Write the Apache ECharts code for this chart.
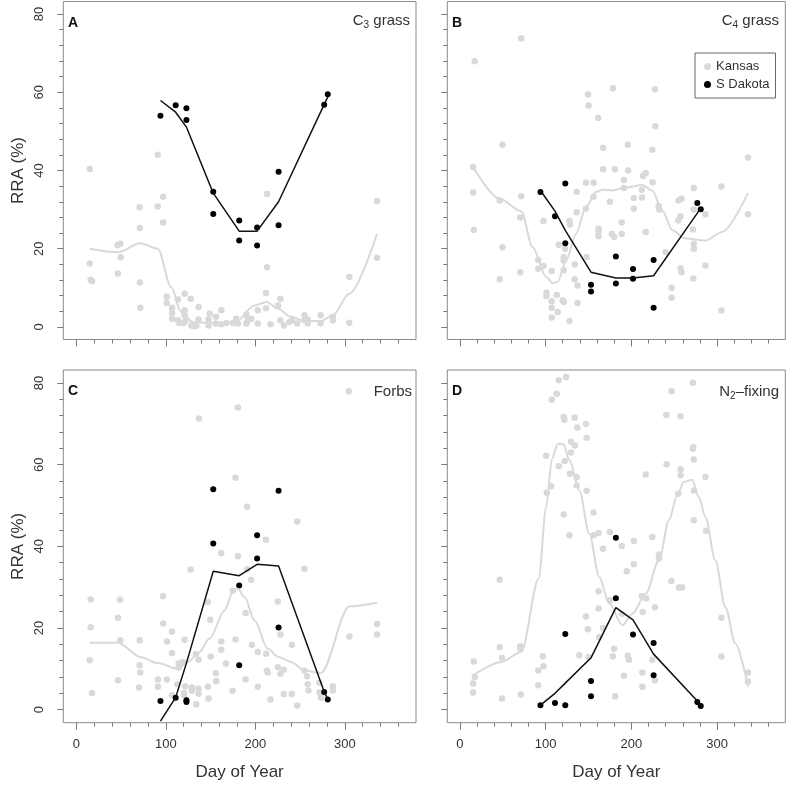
<!DOCTYPE html>
<html>
<head>
<meta charset="utf-8">
<script src="https://cdn.jsdelivr.net/npm/echarts@6/dist/echarts.min.js"></script>
<style>
html, body { margin: 0; padding: 0; background: #fff; }
#chart { width: 787px; height: 785px; }
</style>
</head>
<body>
<div id="chart"></div>
<script>
// tick values
const xTicks = [0, 100, 200, 300];
const xMinor = [20, 40, 60, 80, 120, 140, 160, 180, 220, 240, 260, 280, 320, 340, 360];
const yTicks = [0, 20, 40, 60, 80];
const yMinor = [4, 8, 12, 16, 24, 28, 32, 36, 44, 48, 52, 56, 64, 68, 72, 76];

// S Dakota sample days (line vertices)
const sdDays = [94, 111, 123, 153, 182, 202, 226, 277, 281];

// ---- Panel A : C3 grass ----
const ksA = [[15,40.4],[15,16.2],[16,12.1],[17.5,11.7],[46,20.9],[49,21.3],[49.5,17.8],[46.5,13.7],[70.7,30.6],[71,25.3],
  [71,11.4],[71.5,4.9],[91,44.0],[91,30.8],[97,33.3],[97,26.7],[101,7.7],[101,6.1],[107,4.9],[107,3.6],[107,2.1],
  [113.5,7.0],[113.5,1.7],[115,1.0],[121,8.5],[121,4.3],[121,3.0],[122,1.7],[120,1.0],[127.7,7.2],[128.4,0.4],[132,0.2],
  [134,0.4],[136.6,5.1],[136.6,1.9],[149,3.4],[147.7,1.9],[147.7,0.4],[156,2.6],[156,0.9],[162,4.3],[162,0.7],[167.5,1.0],
  [175,1.0],[178.6,2.1],[180.5,0.9],[190,3.1],[190,0.9],[191.7,1.7],[195.4,2.1],[202.8,4.3],[202.8,0.9],[213,34.0],[213,15.3],
  [212,8.7],[212,4.8],[217,0.7],[225.4,5.5],[228,7.2],[228,1.7],[232,0.4],[238,1.3],[241,1.7],[247,0.9],[255,3.0],[255,1.7],
  [258.6,1.9],[258.6,0.9],[273,3.0],[273,0.9],[286.6,2.6],[286.6,1.7],[305,12.8],[305,1.1],[336,32.2],[336,17.7]];
const ksLineA = [[15,20.0],[46.5,19.1],[71.5,21.4],[91,20.0],[106,10.2],[117,3.8],[130,1.3],[151,1.0],[177,1.0],[199,5.5],
  [213,6.4],[225,4.7],[240,2.6],[255,1.5],[273.5,1.5],[286.6,3.0],[305,8.5],[336,23.8]];
const sdA = [[94,54.0],[111,56.7],[123,55.9],[123,52.9],[153,34.6],[153,28.9],[182,27.2],[182,22.1],[202,25.4],[202,20.8],
  [226,39.7],[226,26.0],[277,56.8],[281,59.5]];
const sdLineA = [57.9, 54.9, 51.1, 34.2, 24.5, 24.5, 32.0, 56.9, 58.8];

// ---- Panel B : C4 grass ----
const ksB = [[17.4,67.9],[71.6,73.8],[15.5,40.9],[15.5,34.4],[16.3,24.8],[49.6,46.6],[46.5,32.3],[49.6,20.4],[46.5,12.2],
  [71.6,33.4],[70.5,28.0],[70.5,14.0],[91.4,17.1],[91.4,14.9],[97.6,15.6],[97.6,27.1],[101,8.8],[101,7.9],[107.2,14.3],
  [107.2,6.6],[107.2,4.9],[107.2,2.4],[113,8.2],[114.2,3.8],[115.4,21.0],[120,6.8],[121.2,17.9],[121.2,17.0],[121.2,14.5],
  [121.2,6.4],[122.7,20.0],[127.8,27.1],[128.5,26.2],[127.8,1.5],[134,12.2],[134,16.0],[136.3,34.6],[136.3,29.3],[137.4,10.6],
  [137.4,6.1],[147.1,36.9],[147.1,30.2],[147.9,17.9],[149.4,59.4],[150.2,56.6],[156,36.9],[156,33.3],[161.4,53.4],[161.8,25.1],
  [161.8,24.3],[161.8,23.2],[167.2,45.8],[167.2,40.3],[175,32.0],[177.3,23.8],[178.5,61.0],[180,23.0],[180.8,40.3],[188.9,26.7],
  [188.9,23.8],[191.3,37.6],[191.3,35.5],[195.9,46.6],[196.3,40.0],[202.9,33.0],[202.9,30.2],[212.2,35.1],[212.5,33.1],
  [213.7,38.6],[216.8,39.3],[216.8,24.3],[224.5,45.3],[224.9,37.0],[227.6,60.8],[228,51.3],[231.9,30.9],[232.7,30.0],[240,19.1],
  [247,10.0],[247,7.5],[255.1,32.3],[258.6,32.8],[254.7,27.2],[257.4,28.3],[257.4,15.0],[258.6,14.0],[271.8,24.9],[272.9,35.5],
  [272.9,30.0],[272.9,21.3],[272.9,20.0],[272.2,12.4],[286.5,28.8],[286.5,15.7],[305.1,35.9],[305.1,4.2],[336,43.3],[336,28.8]];
const ksLineB = [[15.5,40.9],[46.5,32.8],[71.6,29.6],[85,20.4],[100.7,12.8],[108.4,11.2],[114,11.5],[124,17.0],[135.5,23.8],
  [147,30.6],[158.7,34.5],[166.5,35.1],[178,34.9],[193.6,35.7],[213,36.3],[224.5,34.9],[236,29.8],[248,24.7],[263,22.6],
  [286.5,22.1],[305.8,24.3],[336,34.2]];
const sdB = [[94,34.5],[111,28.3],[123,36.7],[123,21.4],[153,10.8],[153,9.1],[182,18.0],[182,11.1],[202,14.8],[202,12.3],
  [226,17.1],[226,4.9],[277,31.7],[281,30.1]];
const sdLineB = [34.9, 29.6, 24.7, 14.0, 12.5, 12.5, 13.1, 29.1, 30.5];

// ---- Panel C : Forbs ----
const ksC = [[16,27.0],[16,20.2],[14.9,12.1],[17.5,4.1],[46.5,22.5],[48.8,26.9],[49.1,17.0],[46.5,7.2],[70.7,17.0],[70.7,10.9],
  [71.5,9.1],[70,5.4],[91.2,7.4],[91.2,5.6],[96.8,27.8],[97.1,21.1],[101.2,16.7],[101.2,7.4],[106.8,19.1],[106.8,13.9],
  [106.8,3.5],[112.8,6.2],[114.3,11.3],[114.3,10.3],[119.1,11.7],[121,17.1],[121.7,5.7],[120.2,4.1],[120.2,3.5],[127.7,34.3],
  [129.1,5.4],[129.1,4.6],[134,1.3],[133.6,13.6],[136.6,12.2],[136.6,5.1],[136.6,3.9],[137,71.3],[147,26.3],[147,5.6],
  [147.7,2.7],[149.6,22.0],[150,13.0],[155.9,8.9],[156.3,7.0],[161.9,16.7],[161.9,14.7],[161.9,38.4],[167.1,11.3],[174.5,4.6],
  [174.9,29.1],[177.9,56.8],[177.9,17.2],[180.5,74.0],[180.5,37.6],[189.1,23.7],[189.1,7.4],[190.9,49.7],[190.9,34.4],
  [195.4,31.8],[196.1,15.9],[202.8,14.1],[202.8,5.6],[211.8,41.6],[212.1,13.7],[212.9,9.5],[214,9.1],[217,2.5],[225.2,26.5],
  [225.2,10.4],[228.1,18.4],[228.1,8.8],[231.9,9.8],[231.9,3.8],[240.8,3.8],[240.8,15.9],[246.8,46.1],[246.8,1.0],[254.9,34.5],
  [254.9,9.5],[257.9,8.2],[258.6,6.2],[259.4,4.7],[271.7,6.6],[271.7,4.2],[273.5,3.3],[273.5,2.9],[286.6,5.7],[286.6,4.7],
  [305.2,17.9],[336.1,21.0],[336.1,18.4],[304.4,78.0]];
const ksLineC = [[15,16.4],[46.5,16.4],[71.5,12.9],[91,11.4],[113.5,10.0],[124.7,11.7],[135.8,13.7],[149,17.4],[165.6,24.3],
  [175,28.8],[180.5,29.6],[188,27.6],[199,21.9],[214,14.9],[226,12.9],[240,11.7],[255,9.6],[273.5,9.0],[305,25.3],[336,26.2]];
const sdC = [[94,2.1],[111,2.9],[123,2.3],[123,1.9],[153,54.0],[153,40.7],[182,30.4],[182,10.9],[202,42.7],[202,37.0],
  [226,53.6],[226,20.1],[277,4.3],[281,2.5]];
const sdLineC = [-2.8, 3.0, 11.4, 33.9, 32.8, 35.6, 35.2, 4.4, 2.5];

// ---- Panel D : N2-fixing ----
const ksD = [[16.3,11.8],[17.4,8.0],[15.5,6.4],[15.5,4.2],[46.5,31.8],[46.5,15.3],[49.2,12.7],[49.2,2.7],[70.5,15.5],[70.5,14.9],
  [71.2,3.7],[91.4,6.0],[91.4,9.6],[96.8,13.1],[97.6,10.6],[100.7,62.2],[101.4,53.1],[106.5,54.7],[107.2,75.9],[113,77.4],
  [115.4,59.6],[115.4,80.7],[124,81.5],[121.2,47.8],[121.2,71.7],[122,71.0],[122.3,60.9],[127.8,42.7],[128.5,57.8],[129.7,65.6],
  [129.7,63.0],[134,71.5],[134.3,64.7],[136.3,57.0],[136.3,54.9],[137,69.1],[139.4,13.3],[147.1,70.0],[147.9,66.6],[147.9,53.6],
  [147.1,22.8],[149.4,19.7],[150.2,12.9],[156,48.3],[156,42.7],[161.8,43.3],[161.8,29.0],[161.8,24.8],[162.6,17.8],[166.9,39.4],
  [166.9,20.0],[175,43.5],[175,26.8],[178.5,13.1],[180,14.9],[181.2,3.3],[188.9,40.1],[188.9,23.5],[194.7,33.9],[195.9,13.2],
  [197.4,12.2],[191.3,8.3],[202.9,41.3],[202.9,35.6],[212.2,27.8],[212.9,9.1],[212.9,5.6],[213.3,23.9],[216.8,57.6],[217.2,27.2],
  [224.5,42.3],[224.5,12.2],[227.6,25.1],[227.6,7.2],[232.3,38.0],[232.3,37.0],[240.8,72.2],[241.2,60.1],[246.6,31.5],[247,78.0],
  [254.7,52.9],[257.4,71.9],[257.4,58.9],[257.4,57.4],[255.5,29.9],[259.4,29.9],[271.8,63.9],[272.2,64.3],[272.9,61.3],
  [272.9,53.7],[272.9,46.4],[271.8,80.1],[286.5,57.0],[287.3,43.8],[305.1,22.5],[305.1,13.0],[336,9.1],[336,6.9]];
const ksLineD = [[15.5,8.4],[48.4,11.7],[71.6,14.1],[92,32.1],[100.7,49.6],[107.6,61.5],[114.2,65.1],[120.8,65.0],[127.8,61.1],
  [139.4,53.7],[151,43.1],[162.6,32.5],[174.2,26.0],[189.7,20.7],[201.3,23.5],[216.8,28.4],[232.3,36.6],[243.9,46.4],
  [253.6,52.5],[261.3,55.8],[271,56.3],[278.7,52.1],[286.5,47.2],[298,36.6],[309.7,25.1],[321.3,16.2],[336,5.6]];
const sdD = [[94,1.1],[111,1.6],[123,1.1],[123,18.5],[153,7.0],[153,3.3],[182,42.1],[182,27.3],[202,18.4],[226,16.3],
  [226,8.4],[277,1.9],[281,0.9]];
const sdLineD = [1.1, 4.0, 6.5, 12.7, 25.0, 22.0, 13.6, 2.1, 1.1];

const font = 'Liberation Sans';
const txt = '#333';
const tickCol = '#7a7a7a';
const grey = '#d9d9d9';

const panels = [
  { ks: ksA, ksLine: ksLineA, sd: sdA, sdLine: sdLineA, grid: { left: 63.3, top: 1.5, width: 352.7, height: 338 }, yLab: true, xLab: false },
  { ks: ksB, ksLine: ksLineB, sd: sdB, sdLine: sdLineB, grid: { left: 447.3, top: 1.5, width: 338, height: 338 }, yLab: false, xLab: false },
  { ks: ksC, ksLine: ksLineC, sd: sdC, sdLine: sdLineC, grid: { left: 63.3, top: 370, width: 352.7, height: 352.7 }, yLab: true, xLab: true },
  { ks: ksD, ksLine: ksLineD, sd: sdD, sdLine: sdLineD, grid: { left: 447.3, top: 370, width: 338, height: 352.7 }, yLab: false, xLab: true }
];

const grids = [], xAxes = [], yAxes = [], series = [];
panels.forEach(function (p, g) {
  grids.push(Object.assign({ show: true, borderColor: '#8a8a8a', borderWidth: 1, backgroundColor: 'transparent' }, p.grid));
  // major + minor x axis
  xAxes.push({
    type: 'value', gridIndex: g, min: -14.6, max: 379.6, position: 'bottom',
    axisLine: { show: false, onZero: false }, splitLine: { show: false },
    axisTick: { show: true, customValues: xTicks, length: 7, lineStyle: { color: tickCol } },
    axisLabel: { show: p.xLab, customValues: xTicks, margin: 15, fontSize: 13, color: txt, fontFamily: font },
    name: p.xLab ? 'Day of Year' : '', nameLocation: 'middle', nameGap: 41,
    nameTextStyle: { fontSize: 17, color: txt, fontFamily: font }
  });
  xAxes.push({
    type: 'value', gridIndex: g, min: -14.6, max: 379.6, position: 'bottom',
    axisLine: { show: false, onZero: false }, splitLine: { show: false },
    axisTick: { show: true, customValues: xMinor, length: 4, lineStyle: { color: tickCol } },
    axisLabel: { show: false }
  });
  yAxes.push({
    type: 'value', gridIndex: g, min: -3.2, max: 83.2, position: 'left',
    axisLine: { show: false, onZero: false }, splitLine: { show: false },
    axisTick: { show: true, customValues: yTicks, length: 6, lineStyle: { color: tickCol } },
    axisLabel: { show: p.yLab, customValues: yTicks, rotate: 90, margin: 17, fontSize: 13, color: txt, fontFamily: font,
      align: 'center', verticalAlign: 'bottom' },
    name: p.yLab ? 'RRA (%)' : '', nameLocation: 'middle', nameGap: 36, nameRotate: 90,
    nameTextStyle: { fontSize: 17, color: txt, fontFamily: font }
  });
  yAxes.push({
    type: 'value', gridIndex: g, min: -3.2, max: 83.2, position: 'left',
    axisLine: { show: false, onZero: false }, splitLine: { show: false },
    axisTick: { show: true, customValues: yMinor, length: 4, lineStyle: { color: tickCol } },
    axisLabel: { show: false }
  });

  series.push({
    name: 'Kansas', type: 'scatter', xAxisIndex: 2 * g, yAxisIndex: 2 * g,
    data: p.ks, symbolSize: 6.5, itemStyle: { color: grey, opacity: 1 }
  });
  series.push({
    name: 'Kansas trend', type: 'line', xAxisIndex: 2 * g, yAxisIndex: 2 * g,
    data: p.ksLine, symbol: 'none', smooth: 0.3, smoothMonotone: 'x',
    lineStyle: { color: grey, width: 2 }
  });
  series.push({
    name: 'S Dakota trend', type: 'line', xAxisIndex: 2 * g, yAxisIndex: 2 * g,
    data: sdDays.map(function (d, i) { return [d, p.sdLine[i]]; }), symbol: 'none',
    lineStyle: { color: '#111', width: 1.5 }
  });
  series.push({
    name: 'S Dakota', type: 'scatter', xAxisIndex: 2 * g, yAxisIndex: 2 * g,
    data: p.sd, symbolSize: 6, itemStyle: { color: '#000', opacity: 1 }
  });
});

const rich = {
  n: { fontSize: 15, fontWeight: 'normal', color: txt, fontFamily: font, lineHeight: 18 },
  s: { fontSize: 10, fontWeight: 'normal', color: txt, fontFamily: font, lineHeight: 10, verticalAlign: 'bottom' }
};
const titleStyle = { fontWeight: 'normal', rich: rich };
const letterStyle = { fontSize: 14, fontWeight: 'bold', color: '#111', fontFamily: font };

const chart = echarts.init(document.getElementById('chart'), null, { renderer: 'canvas' });
chart.setOption({
  animation: false,
  backgroundColor: '#fff',
  title: [
    { text: 'A', left: 68, top: 16, textStyle: letterStyle, padding: 0 },
    { text: 'B', left: 452, top: 16, textStyle: letterStyle, padding: 0 },
    { text: 'C', left: 68, top: 384, textStyle: letterStyle, padding: 0 },
    { text: 'D', left: 452, top: 384, textStyle: letterStyle, padding: 0 },
    { text: '{n|C}{s|3}{n| grass}', right: 377, top: 12, padding: 0, textStyle: titleStyle },
    { text: '{n|C}{s|4}{n| grass}', right: 8, top: 12, padding: 0, textStyle: titleStyle },
    { text: '{n|Forbs}', right: 375, top: 383, padding: 0, textStyle: titleStyle },
    { text: '{n|N}{s|2}{n|\u2013fixing}', right: 8, top: 383, padding: 0, textStyle: titleStyle }
  ],
  legend: {
    data: ['Kansas', 'S Dakota'], left: 695, top: 53, orient: 'vertical',
    icon: 'circle', itemWidth: 7, itemHeight: 7, itemGap: 5, selectedMode: false,
    padding: [7, 6, 7, 9], borderColor: '#666', borderWidth: 1,
    textStyle: { fontSize: 13, color: txt, fontFamily: font }
  },
  grid: grids,
  xAxis: xAxes,
  yAxis: yAxes,
  series: series
});
</script>
</body>
</html>
